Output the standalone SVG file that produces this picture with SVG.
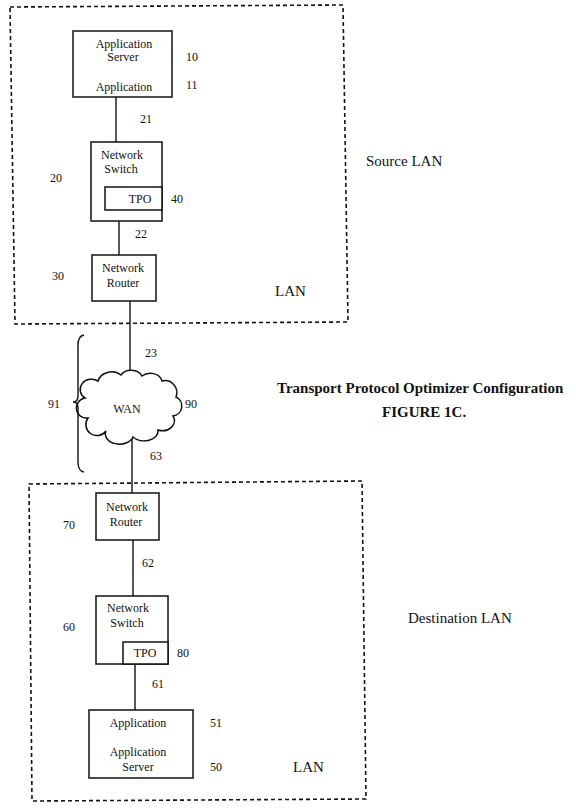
<svg xmlns="http://www.w3.org/2000/svg" width="576" height="811" viewBox="0 0 576 811">
<style>
text{font-family:"Liberation Serif","Times New Roman",serif;fill:#111}
.t{font-size:12px}
.m{text-anchor:middle}
.big{font-size:15px}
.title{font-size:15px;font-weight:bold}
.box{fill:#fff;stroke:#111;stroke-width:1.5}
.lan{fill:none;stroke:#111;stroke-width:1.6;stroke-dasharray:4 3}
.wire{fill:none;stroke:#111;stroke-width:1.4}
</style>
<rect width="576" height="811" fill="#fff"/>
<g id="source-lan">
<path class="lan" d="M10,7 L343,5 L348,322 L15,324 Z"/>
<text class="big" x="366" y="166">Source LAN</text>
<text class="big" x="275" y="296">LAN</text>
</g>
<g id="dest-lan">
<path class="lan" d="M29,484 L362,481 L366,799 L32,801 Z"/>
<text class="big" x="408" y="623">Destination LAN</text>
<text class="big" x="293" y="772">LAN</text>
</g>
<g id="connectors">
<line class="wire" x1="116" y1="97" x2="116" y2="142"/>
<line class="wire" x1="119" y1="221" x2="119" y2="255"/>
<line class="wire" x1="130" y1="301" x2="130" y2="375"/>
<line class="wire" x1="132" y1="437" x2="132" y2="493"/>
<line class="wire" x1="133" y1="540" x2="133" y2="596"/>
<line class="wire" x1="135" y1="664" x2="135" y2="710"/>
<text class="t" x="140" y="123">21</text>
<text class="t" x="135" y="238">22</text>
<text class="t" x="145" y="357">23</text>
<text class="t" x="150" y="460">63</text>
<text class="t" x="142" y="567">62</text>
<text class="t" x="152" y="688">61</text>
</g>
<g id="app-server-10">
<rect class="box" x="73" y="31" width="99" height="66"/>
<text class="t m" x="124" y="48">Application</text>
<text class="t m" x="123" y="61">Server</text>
<text class="t m" x="124" y="91">Application</text>
<text class="t" x="186" y="61">10</text>
<text class="t" x="186" y="89">11</text>
</g>
<g id="switch-20">
<rect class="box" x="91" y="142" width="71" height="79"/>
<text class="t m" x="122" y="159">Network</text>
<text class="t m" x="121" y="173">Switch</text>
<text class="t" x="50" y="182">20</text>
</g>
<g id="tpo-40">
<rect class="box" x="105" y="187" width="57" height="23"/>
<text class="t m" x="140" y="203">TPO</text>
<text class="t" x="171" y="203">40</text>
</g>
<g id="router-30">
<rect class="box" x="92" y="255" width="64" height="46"/>
<text class="t m" x="123" y="272">Network</text>
<text class="t m" x="123" y="287">Router</text>
<text class="t" x="52" y="280">30</text>
</g>
<g id="wan-90">
<path class="box" d="M85,398 A11,10 0 0 1 98,381 A14,12 0 0 1 121,375 A12,10 0 0 1 142,376 A12,10 0 0 1 162,381 A12,12 0 0 1 176,397 A10,10 0 0 1 173,416 A12,10 0 0 1 158,430 A14,10 0 0 1 133,437 A14,10 0 0 1 106,431 A10,10 0 0 1 88,418 A9,9 0 0 1 85,398 Z"/>
<text class="t m" x="127" y="413">WAN</text>
<text class="t" x="185" y="408">90</text>
</g>
<g id="brace-91">
<path class="wire" d="M84,335 Q78,336 78,345 L78,396 Q78,402 73,402 Q78,402 78,408 L78,462 Q78,471 84,472"/>
<text class="t" x="48" y="408">91</text>
</g>
<g id="title">
<text class="title" x="277" y="393">Transport Protocol Optimizer Configuration</text>
<text class="title" x="382" y="417">FIGURE 1C.</text>
</g>
<g id="router-70">
<rect class="box" x="96" y="493" width="63" height="47"/>
<text class="t m" x="127" y="511">Network</text>
<text class="t m" x="126" y="526">Router</text>
<text class="t" x="63" y="529">70</text>
</g>
<g id="switch-60">
<rect class="box" x="96" y="596" width="72" height="68"/>
<text class="t m" x="128" y="612">Network</text>
<text class="t m" x="127" y="627">Switch</text>
<text class="t" x="63" y="631">60</text>
</g>
<g id="tpo-80">
<rect class="box" x="123" y="642" width="45" height="22"/>
<text class="t m" x="145" y="657">TPO</text>
<text class="t" x="177" y="657">80</text>
</g>
<g id="app-server-50">
<rect class="box" x="89" y="710" width="104" height="68"/>
<text class="t m" x="138" y="727">Application</text>
<text class="t m" x="138" y="756">Application</text>
<text class="t m" x="138" y="771">Server</text>
<text class="t" x="210" y="727">51</text>
<text class="t" x="210" y="771">50</text>
</g>
</svg>
